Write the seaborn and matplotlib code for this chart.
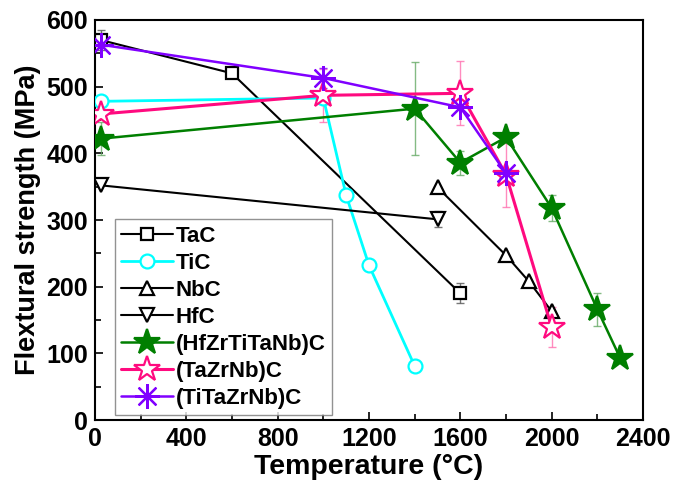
import matplotlib
matplotlib.use("Agg")
import matplotlib.pyplot as plt
import seaborn as sns
import pandas as pd
import numpy as np
from matplotlib.ticker import MultipleLocator

sns.set_style("ticks")
plt.rcParams['font.family'] = ['Liberation Sans', 'DejaVu Sans']
plt.rcParams['font.weight'] = 'bold'
plt.rcParams['text.color'] = 'black'
plt.rcParams['axes.labelcolor'] = 'black'
plt.rcParams['xtick.color'] = 'black'
plt.rcParams['ytick.color'] = 'black'

# ---- data ----
names = ["TaC", "TiC", "NbC", "HfC", "(HfZrTiTaNb)C", "(TaZrNb)C", "(TiTaZrNb)C"]

tac_T = [25, 600, 1600]
tac_S = [570, 520, 190]
tac_E = [15, 0, 15]

tic_T = [25, 1000, 1100, 1200, 1400]
tic_S = [478, 483, 337, 232, 81]
tic_E = [0, 0, 0, 0, 0]

nbc_T = [1500, 1800, 1900, 2000]
nbc_S = [349, 247, 208, 163]
nbc_E = [0, 0, 0, 0]

hfc_T = [25, 1500]
hfc_S = [352, 301]
hfc_E = [0, 12]

hec_T = [25, 1400, 1600, 1800, 2000, 2200, 2300]
hec_S = [422, 467, 386, 424, 318, 166, 93]
hec_E = [25, 70, 18, 0, 20, 25, 0]

tzn_T = [25, 1000, 1600, 1800, 2000]
tzn_S = [459, 487, 490, 368, 139]
tzn_E = [0, 40, 48, 48, 30]

ttzn_T = [25, 1000, 1600, 1800]
ttzn_S = [563, 513, 469, 370]
ttzn_E = [0, 15, 0, 0]

series = [(tac_T, tac_S, tac_E), (tic_T, tic_S, tic_E), (nbc_T, nbc_S, nbc_E),
          (hfc_T, hfc_S, hfc_E), (hec_T, hec_S, hec_E), (tzn_T, tzn_S, tzn_E),
          (ttzn_T, ttzn_S, ttzn_E)]

styles = {
    "TaC": dict(color="black", marker="s", ms=8, mfc="white", lw=1.5, ecol="#555555"),
    "TiC": dict(color="#00FFFF", marker="o", ms=10, mfc="white", lw=2.0, ecol="#00FFFF"),
    "NbC": dict(color="black", marker="^", ms=10, mfc="white", lw=1.5, ecol="#555555"),
    "HfC": dict(color="black", marker="v", ms=10, mfc="white", lw=1.5, ecol="#555555"),
    "(HfZrTiTaNb)C": dict(color="#007F00", marker="*", ms=19, mfc="#007F00", lw=1.8, ecol="#66AA66"),
    "(TaZrNb)C": dict(color="#FF0A7F", marker="*", ms=19, mfc="white", lw=2.2, ecol="#FF70B0"),
    "(TiTaZrNb)C": dict(color="#8000FF", marker=(8, 2, 0), ms=18, mfc="#8000FF", lw=1.8, ecol="#8000FF"),
}

rows = []
for n, (T, S, E) in zip(names, series):
    for t, s, e in zip(T, S, E):
        rows.append(dict(series=n, T=t, S=s, E=e))
df = pd.DataFrame(rows)

fig = plt.figure(figsize=(6.78, 4.84), dpi=100)
ax = fig.add_axes([95/678, 64/484, 548/678, 400/484])

for n in names:
    sub = df[df.series == n]
    st = styles[n]
    ee = sub[sub.E > 0]
    if len(ee):
        ax.errorbar(ee["T"], ee["S"], yerr=ee["E"], fmt="none", ecolor=st["ecol"],
                    elinewidth=1.0, capsize=3, capthick=1.0, zorder=1, alpha=0.8)
    sns.lineplot(data=sub, x="T", y="S", ax=ax, color=st["color"], lw=st["lw"],
                 marker=st["marker"], markersize=st["ms"], markerfacecolor=st["mfc"],
                 markeredgecolor=st["color"], markeredgewidth=1.6, label=n,
                 sort=False, zorder=3)

ax.set_xlim(0, 2400)
ax.set_ylim(0, 600)
ax.xaxis.set_major_locator(MultipleLocator(400))
ax.xaxis.set_minor_locator(MultipleLocator(200))
ax.yaxis.set_major_locator(MultipleLocator(100))
ax.yaxis.set_minor_locator(MultipleLocator(50))
ax.tick_params(which="both", direction="in", top=False, right=False, width=1.2,
               colors="black")
ax.tick_params(which="major", length=6, labelsize=18, pad=5)
ax.tick_params(which="minor", length=4)
for lab in ax.get_xticklabels() + ax.get_yticklabels():
    lab.set_fontweight("bold")
for sp in ax.spines.values():
    sp.set_linewidth(1.5)
    sp.set_color("black")

ax.set_xlabel("Temperature (°C)", fontsize=20.5, fontweight="bold", labelpad=2,
              color="black")
ax.set_ylabel("Flextural strength (MPa)", fontsize=19.5, fontweight="bold", labelpad=4,
              color="black")

leg = ax.legend(loc="lower left", bbox_to_anchor=(0.036, 0.012), fontsize=16,
                frameon=True, fancybox=False, edgecolor="#777777", handlelength=2.3,
                handletextpad=0.15, labelspacing=0.27, borderpad=0.3, borderaxespad=0)
leg.get_frame().set_linewidth(1.0)
for t in leg.get_texts():
    t.set_fontweight("bold")
    t.set_color("black")

fig.savefig("out.png", dpi=100)
